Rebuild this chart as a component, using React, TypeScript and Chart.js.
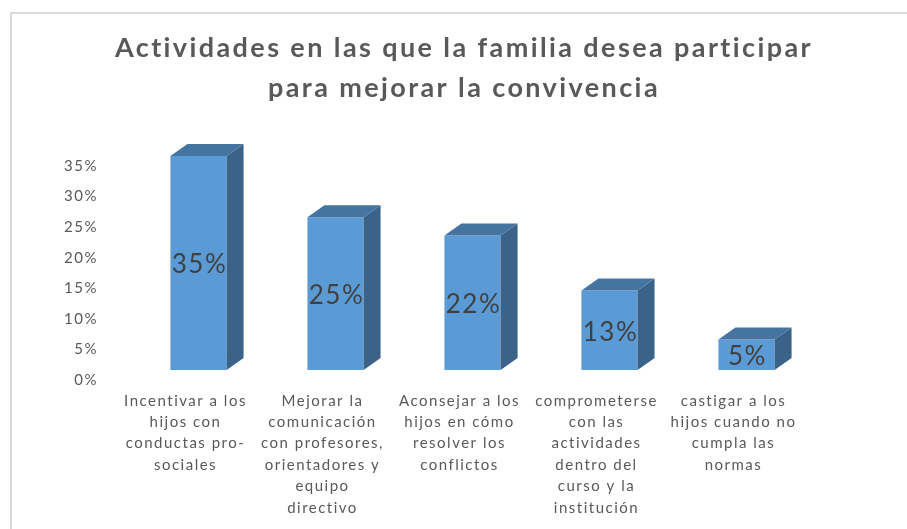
import React, { useEffect, useRef } from "react";
import { Chart, registerables } from "chart.js";

Chart.register(...registerables);

const titleLines = [
  "Actividades en las que la familia desea participar",
  "para mejorar la convivencia",
];

const categories = [
  ["Incentivar a los", "hijos con", "conductas pro-", "sociales"],
  ["Mejorar la", "comunicación", "con profesores,", "orientadores y", "equipo", "directivo"],
  ["Aconsejar a los", "hijos en cómo", "resolver los", "conflictos"],
  ["comprometerse", "con las", "actividades", "dentro del", "curso y la", "institución"],
  ["castigar a los", "hijos cuando no", "cumpla las", "normas"],
];

const values = [35, 25, 22, 13, 5];

const yMax = 35;
const yStep = 5;

const FRONT = "#5B9BD5";
const SIDE = "#3B6389";
const TOP = "#4674A1";
const TEXT = "#595959";
const FONT = "Lato, 'Open Sans', sans-serif";

export default function App() {
  const ref = useRef<HTMLCanvasElement | null>(null);

  useEffect(() => {
    const canvas = ref.current;
    if (!canvas) return;
    const dx = 17;
    const dy = 12;

    const spacingPlugin = {
      id: "spacing",
      beforeLayout(chart: any) {
        chart.ctx.letterSpacing = "1.5px";
      },
      beforeDraw(chart: any) {
        chart.ctx.letterSpacing = "1.5px";
      },
    };

    const framePlugin = {
      id: "frame",
      beforeDraw(chart: any) {
        const ctx = chart.ctx;
        ctx.save();
        ctx.fillStyle = "#ffffff";
        ctx.fillRect(0, 0, chart.width, chart.height);
        ctx.strokeStyle = "#d9d9d9";
        ctx.lineWidth = 2;
        ctx.beginPath();
        ctx.moveTo(11, chart.height + 5);
        ctx.lineTo(11, 13);
        ctx.lineTo(chart.width + 5, 13);
        ctx.stroke();
        ctx.restore();
      },
      afterDraw(chart: any) {
        const ctx = chart.ctx;
        ctx.save();
        ctx.fillStyle = TEXT;
        ctx.font = `bold 27px ${FONT}`;
        ctx.letterSpacing = "2.4px";
        ctx.textAlign = "center";
        ctx.textBaseline = "middle";
        titleLines.forEach((t, i) => ctx.fillText(t, 464, 48 + i * 40));
        ctx.restore();
      },
    };

    const bar3d = {
      id: "bar3d",
      afterDatasetsDraw(chart: any) {
        const ctx = chart.ctx;
        const meta = chart.getDatasetMeta(0);
        ctx.save();
        meta.data.forEach((el: any, i: number) => {
          const { x, y, base, width } = el.getProps(["x", "y", "base", "width"], true);
          const l = x - width / 2;
          const r = x + width / 2;
          ctx.fillStyle = SIDE;
          ctx.beginPath();
          ctx.moveTo(r, y);
          ctx.lineTo(r + dx, y - dy);
          ctx.lineTo(r + dx, base - dy);
          ctx.lineTo(r, base);
          ctx.closePath();
          ctx.fill();
          ctx.fillStyle = TOP;
          ctx.beginPath();
          ctx.moveTo(l, y);
          ctx.lineTo(l + dx, y - dy);
          ctx.lineTo(r + dx, y - dy);
          ctx.lineTo(r, y);
          ctx.closePath();
          ctx.fill();
          ctx.fillStyle = "#404040";
          ctx.font = `26px ${FONT}`;
          ctx.letterSpacing = "1.5px";
          ctx.textAlign = "center";
          ctx.textBaseline = "middle";
          ctx.fillText(values[i] + "%", x + 1, (y + base) / 2 + 2);
        });
        ctx.restore();
      },
    };

    const chart = new Chart(canvas, {
      type: "bar",
      data: {
        labels: categories,
        datasets: [
          {
            data: values,
            backgroundColor: FRONT,
            borderWidth: 0,
            barPercentage: 0.41,
            categoryPercentage: 1,
          },
        ],
      },
      options: {
        responsive: false,
        animation: false,
        layout: { padding: { top: 156, right: 92, bottom: 0, left: 0 } },
        plugins: {
          legend: { display: false },
          title: { display: false },
          tooltip: { enabled: false },
        },
        scales: {
          x: {
            grid: { display: false, drawTicks: false },
            border: { display: false },
            afterFit(scale: any) {
              scale.height = 159;
            },
            ticks: {
              autoSkip: false,
              maxRotation: 0,
              minRotation: 0,
              padding: 20,
              labelOffset: -13,
              color: TEXT,
              font: { family: FONT, size: 15, lineHeight: 1.43 },
            },
          },
          y: {
            min: 0,
            max: yMax,
            grid: { display: false, drawTicks: false },
            border: { display: false },
            afterFit(scale: any) {
              scale.width = 130;
            },
            ticks: {
              stepSize: yStep,
              padding: 32,
              labelOffset: 10,
              color: TEXT,
              font: { family: FONT, size: 15 },
              callback: (v: any) => v + "%",
            },
          },
        },
      },
      plugins: [spacingPlugin, framePlugin, bar3d],
    });

    return () => chart.destroy();
  }, []);

  return (
    <div style={{ position: "fixed", left: 0, top: 0, width: 907, height: 529, background: "#fff" }}>
      <canvas ref={ref} width={907} height={529} style={{ width: 907, height: 529, display: "block" }} />
    </div>
  );
}
